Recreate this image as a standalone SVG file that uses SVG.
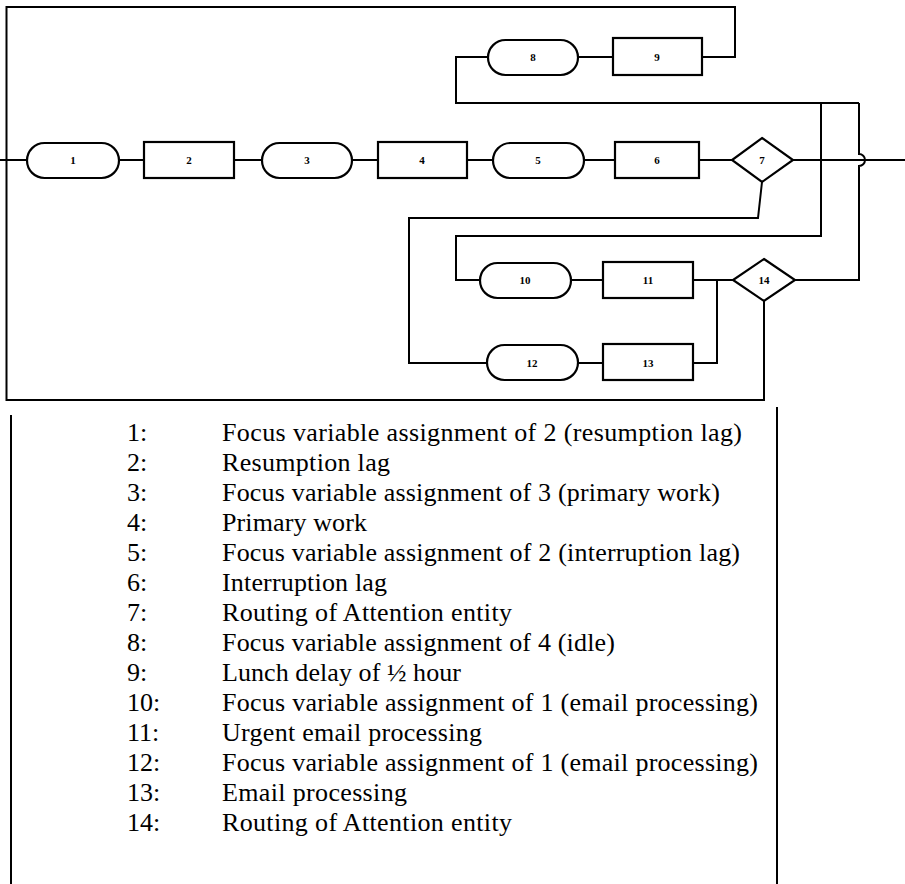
<svg xmlns="http://www.w3.org/2000/svg" width="905" height="884" viewBox="0 0 905 884">
<style>
.n{fill:#fff;stroke:#000;stroke-width:2.2}
.c{fill:none;stroke:#000;stroke-width:2;stroke-linejoin:miter}
.l{font-family:"Liberation Serif",serif;font-size:11px;font-weight:bold;text-anchor:middle;fill:#000}
.t{font-family:"Liberation Serif",serif;font-size:26px;fill:#000}
</style>
<rect width="905" height="884" fill="#fff"/>
<g id="connectors">
<path class="c" d="M0,160 H27"/>
<path class="c" d="M119,160 H144"/>
<path class="c" d="M234,160 H262"/>
<path class="c" d="M352,160 H378"/>
<path class="c" d="M467,160 H493"/>
<path class="c" d="M584,160 H615"/>
<path class="c" d="M699,160 H732"/>
<path class="c" d="M793,160 H905"/>
<path class="c" d="M764,301 V400 H6.5 V7 H735 V57 H702"/>
<path class="c" d="M613,57 H578"/>
<path class="c" d="M488,57 H456 V103 H859"/>
<path class="c" d="M821,103 V236 H456 V280 H480"/>
<path class="c" d="M795,280 H859 V166 A6,6 0 0 0 859,154 V103"/>
<path class="c" d="M762,182 L758,218 H409 V363 H487"/>
<path class="c" d="M571,280 H603"/>
<path class="c" d="M693,280 H733"/>
<path class="c" d="M578,363 H603"/>
<path class="c" d="M693,363 H717 V280"/>
<path class="c" d="M11,415 V884"/>
<path class="c" d="M777,407 V884"/>
</g>
<g id="node1"><rect class="n" x="27" y="143" width="92" height="35" rx="17.5"/><text class="l" x="73" y="164">1</text></g>
<g id="node2"><rect class="n" x="144" y="142" width="90" height="36"/><text class="l" x="189" y="164">2</text></g>
<g id="node3"><rect class="n" x="262" y="143" width="90" height="35" rx="17.5"/><text class="l" x="307" y="164">3</text></g>
<g id="node4"><rect class="n" x="378" y="142" width="89" height="36"/><text class="l" x="422" y="164">4</text></g>
<g id="node5"><rect class="n" x="493" y="143" width="91" height="35" rx="17.5"/><text class="l" x="538" y="164">5</text></g>
<g id="node6"><rect class="n" x="615" y="142" width="84" height="36"/><text class="l" x="657" y="164">6</text></g>
<g id="node7"><polygon class="n" points="762,138 793,160 762,182 732,160"/><text class="l" x="762" y="164">7</text></g>
<g id="node8"><rect class="n" x="488" y="40" width="90" height="35" rx="17.5"/><text class="l" x="533" y="61">8</text></g>
<g id="node9"><rect class="n" x="613" y="38" width="89" height="37"/><text class="l" x="657" y="61">9</text></g>
<g id="node10"><rect class="n" x="480" y="263" width="91" height="35" rx="17.5"/><text class="l" x="525" y="284">10</text></g>
<g id="node11"><rect class="n" x="603" y="262" width="90" height="36"/><text class="l" x="648" y="284">11</text></g>
<g id="node12"><rect class="n" x="487" y="345" width="91" height="35" rx="17.5"/><text class="l" x="532" y="367">12</text></g>
<g id="node13"><rect class="n" x="603" y="344" width="90" height="36"/><text class="l" x="648" y="367">13</text></g>
<g id="node14"><polygon class="n" points="764,259 795,280 764,301 733,280"/><text class="l" x="764" y="284">14</text></g>
<g id="legend">
<text class="t" x="127" y="441">1:</text><text class="t" x="222" y="441" textLength="520" lengthAdjust="spacing">Focus variable assignment of 2 (resumption lag)</text>
<text class="t" x="127" y="471">2:</text><text class="t" x="222" y="471" textLength="168" lengthAdjust="spacing">Resumption lag</text>
<text class="t" x="127" y="501">3:</text><text class="t" x="222" y="501" textLength="498" lengthAdjust="spacing">Focus variable assignment of 3 (primary work)</text>
<text class="t" x="127" y="531">4:</text><text class="t" x="222" y="531" textLength="145" lengthAdjust="spacing">Primary work</text>
<text class="t" x="127" y="561">5:</text><text class="t" x="222" y="561" textLength="518" lengthAdjust="spacing">Focus variable assignment of 2 (interruption lag)</text>
<text class="t" x="127" y="591">6:</text><text class="t" x="222" y="591" textLength="165" lengthAdjust="spacing">Interruption lag</text>
<text class="t" x="127" y="621">7:</text><text class="t" x="222" y="621" textLength="290" lengthAdjust="spacing">Routing of Attention entity</text>
<text class="t" x="127" y="651">8:</text><text class="t" x="222" y="651" textLength="393" lengthAdjust="spacing">Focus variable assignment of 4 (idle)</text>
<text class="t" x="127" y="681">9:</text><text class="t" x="222" y="681" textLength="239" lengthAdjust="spacing">Lunch delay of ½ hour</text>
<text class="t" x="127" y="711">10:</text><text class="t" x="222" y="711" textLength="536" lengthAdjust="spacing">Focus variable assignment of 1 (email processing)</text>
<text class="t" x="127" y="741">11:</text><text class="t" x="222" y="741" textLength="260" lengthAdjust="spacing">Urgent email processing</text>
<text class="t" x="127" y="771">12:</text><text class="t" x="222" y="771" textLength="536" lengthAdjust="spacing">Focus variable assignment of 1 (email processing)</text>
<text class="t" x="127" y="801">13:</text><text class="t" x="222" y="801" textLength="185" lengthAdjust="spacing">Email processing</text>
<text class="t" x="127" y="831">14:</text><text class="t" x="222" y="831" textLength="290" lengthAdjust="spacing">Routing of Attention entity</text>
</g>
</svg>
